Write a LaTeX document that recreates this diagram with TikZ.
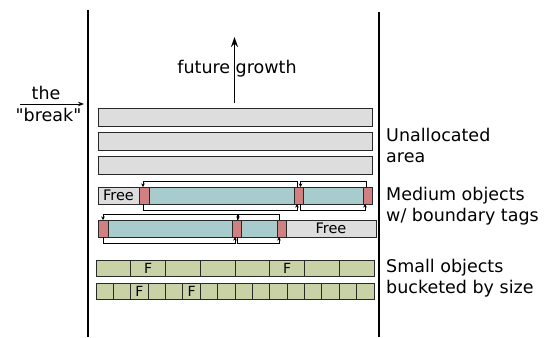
\documentclass[tikz,border=0pt]{standalone}
\usepackage{fontspec}
\setmainfont{DejaVu Sans}[Ligatures=TeXOff]
\usetikzlibrary{arrows.meta,calc}
\definecolor{unallocfill}{RGB}{221,221,221}
\definecolor{medfill}{RGB}{168,204,206}
\definecolor{tagfill}{RGB}{208,128,128}
\definecolor{smallfill}{RGB}{200,210,166}
\definecolor{boxline}{RGB}{40,40,40}
\newcommand{\mkbox}[6]{\node[#6, minimum width={((#4)-(#2))*1pt}, minimum height={((#5)-(#3))*1pt}] (#1) at ({((#2)+(#4))/2},{((#3)+(#5))/2}) {};}
\begin{document}
\begin{tikzpicture}[x=1pt,y=-1pt,
  base/.style={draw=boxline, line width=0.9pt, inner sep=0pt, outer sep=0pt},
  unalloc/.style={base, fill=unallocfill},
  med/.style={base, fill=medfill},
  tagbox/.style={base, fill=tagfill},
  freebox/.style={base, fill=unallocfill},
  smallcell/.style={base, fill=smallfill},
  bigtxt/.style={font=\fontsize{17.5}{21}\selectfont, inner sep=0pt},
  freetxt/.style={font=\fontsize{14.5}{16}\selectfont, inner sep=0pt},
  ftxt/.style={font=\fontsize{14}{15}\selectfont, inner sep=0pt},
  wall/.style={line width=1.7pt},
  ptr/.style={line width=0.8pt, -{Stealth[length=3.5pt,width=3.5pt]}},
  bigarrow/.style={line width=1.8pt, -{Stealth[length=10pt,width=7pt]}}
]
\useasboundingbox (0,0) rectangle (556,337);
% walls
\coordinate (lwtop) at (88,10);
\coordinate (lwbot) at (88,337);
\coordinate (rwtop) at (379,12);
\coordinate (rwbot) at (379,337);
\draw[wall] (lwtop) -- (lwbot);
\draw[wall] (rwtop) -- (rwbot);
% unallocated bars
\mkbox{u1}{98}{108}{372}{126}{unalloc}
\mkbox{u2}{98}{132}{372}{150}{unalloc}
\mkbox{u3}{98}{156}{372}{174}{unalloc}
% future growth
\coordinate (growtip) at (234.5,37);
\coordinate (growbase) at ($(u1.north)+(-0.5,-5)$);
\draw[bigarrow] (growbase) -- (growtip);
\node[bigtxt, anchor=base] (fg) at (237,73.5) {future growth};
% the break
\node[bigtxt, anchor=base] (the) at (46,99) {the};
\node[bigtxt, anchor=base] (brk) at (48.5,121.5) {"break"};
\coordinate (brkstart) at (20,104);
\coordinate (brkend) at (84,104);
\draw[line width=1pt, -{Stealth[length=6pt,width=4.5pt]}] (brkstart) -- (brkend);
% medium row 1
\mkbox{f1}{98}{187}{139}{204}{freebox}
\mkbox{t11}{139}{187}{149}{204}{tagbox}
\mkbox{m11}{149}{187}{294}{204}{med}
\mkbox{t12}{294}{187}{303}{204}{tagbox}
\mkbox{m12}{303}{187}{363}{204}{med}
\mkbox{t13}{363}{187}{372}{204}{tagbox}
\node[freetxt] (f1t) at (f1.center) {Free};
% medium row 2
\mkbox{t21}{98}{220}{108}{237}{tagbox}
\mkbox{m21}{108}{220}{232}{237}{med}
\mkbox{t22}{232}{220}{241}{237}{tagbox}
\mkbox{m22}{241}{220}{277}{237}{med}
\mkbox{t23}{277}{220}{286}{237}{tagbox}
\mkbox{f2}{286}{220}{376}{237}{freebox}
\node[freetxt] (f2t) at (f2.center) {Free};
% boundary tag pointers row 1
\draw[ptr] ($(t12.north west)+(3,0)$) -- ++(0,-6) -| ($(t11.north)+(-1,0)$);
\draw[ptr] ($(t13.north west)+(3,0)$) -- ++(0,-6) -| ($(t12.north)+(2,0)$);
\draw[ptr] ($(t11.south)+(-1,0)$) -- ++(0,6) -| ($(t12.south west)+(3,0)$);
\draw[ptr] ($(t12.south)+(2,0)$) -- ++(0,6) -| ($(t13.south west)+(2,0)$);
% boundary tag pointers row 2
\draw[ptr] ($(t22.north)+(0.5,0)$) -- ++(0,-6) -| ($(t21.north)+(0,0)$);
\draw[ptr] ($(t23.north west)+(2.5,0)$) -- ++(0,-6) -| ($(t22.north)+(1.5,0)$);
\draw[ptr] ($(t21.south)+(0,0)$) -- ++(0,6) -| ($(t22.south)+(-1.5,0)$);
\draw[ptr] ($(t22.south)+(1,0)$) -- ++(0,6) -| ($(t23.south west)+(2,0)$);
% small objects row 1
\foreach \i in {0,...,7}{
  \mkbox{sa\i}{96+34.75*\i}{260}{96+34.75*(\i+1)}{276}{smallcell}
}
\node[ftxt] (sfa1) at (sa1.center) {F};
\node[ftxt] (sfa5) at (sa5.center) {F};
% small objects row 2
\foreach \i in {0,...,15}{
  \mkbox{sb\i}{96+17.375*\i}{283}{96+17.375*(\i+1)}{299}{smallcell}
}
\node[ftxt] (sfb2) at (sb2.center) {F};
\node[ftxt] (sfb5) at (sb5.center) {F};
% labels
\node[bigtxt, anchor=base west] (lu1) at (386,141.8) {Unallocated};
\node[bigtxt, anchor=base west] (lu2) at (386,162.8) {area};
\node[bigtxt, anchor=base west] (lm1) at (386,200.8) {Medium objects};
\node[bigtxt, anchor=base west] (lm2) at (386,221.8) {w/ boundary tags};
\node[bigtxt, anchor=base west] (ls1) at (386,272.8) {Small objects};
\node[bigtxt, anchor=base west] (ls2) at (386,293.8) {bucketed by size};
\end{tikzpicture}
\end{document}
